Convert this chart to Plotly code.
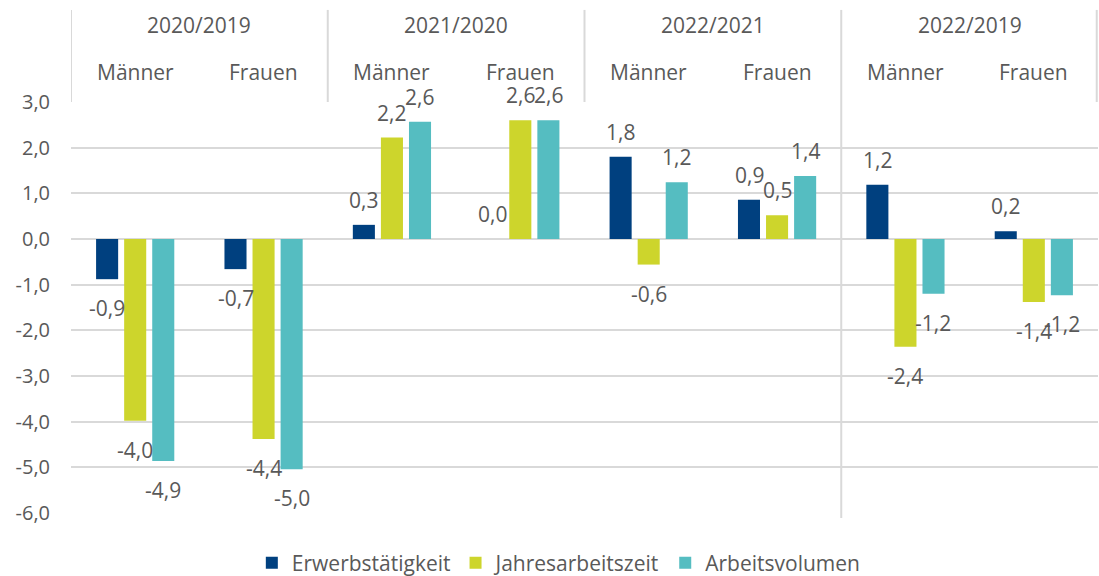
import plotly.graph_objects as go

periods = ["2020/2019", "2021/2020", "2022/2021", "2022/2019"]
genders = ["Männer", "Frauen"]
x_keys = [f"{p} {g}" for p in periods for g in genders]
x_gender = [g for _ in periods for g in genders]

erwerb = [-0.88, -0.66, 0.31, 0.0, 1.80, 0.86, 1.19, 0.17]
jahres = [-3.98, -4.38, 2.22, 2.60, -0.56, 0.52, -2.36, -1.38]
arbeit = [-4.86, -5.04, 2.57, 2.60, 1.24, 1.38, -1.20, -1.23]

series = [
    ("Erwerbstätigkeit", erwerb, "#00407F"),
    ("Jahresarbeitszeit", jahres, "#CDD52C"),
    ("Arbeitsvolumen", arbeit, "#55BDC1"),
]

y_ticks = [3, 2, 1, 0, -1, -2, -3, -4, -5, -6]


def de(v):
    return f"{v:.1f}".replace(".", ",")


FONT = "Open Sans"
GREY = "#595959"
LINE = "#D9D9D9"

fig = go.Figure()
for name, vals, col in series:
    fig.add_trace(go.Bar(
        name=name,
        x=x_keys,
        y=vals,
        marker=dict(color=col, line=dict(width=0)),
        hoverinfo="skip",
    ))

# data labels (Excel-style "outside end" offset)
annotations = []
for i, (name, vals, col) in enumerate(series):
    for k, v in zip(x_keys, vals):
        annotations.append(dict(
            x=k, y=v, xref="x", yref="y", text=de(v), showarrow=False,
            xshift=(i - 1) * 28, yshift=25 if v >= 0 else -29,
            yanchor="middle", xanchor="center",
            font=dict(family=FONT, size=21, color=GREY),
        ))

# header: period labels and gender labels
for j, p in enumerate(periods):
    annotations.append(dict(
        x=2 * j + 0.5, y=1.187, xref="x", yref="paper", text=p, showarrow=False,
        xanchor="center", yanchor="middle",
        font=dict(family=FONT, size=21, color=GREY),
    ))
for k, g in zip(x_keys, x_gender):
    annotations.append(dict(
        x=k, y=1.073, xref="x", yref="paper", text=g, showarrow=False,
        xanchor="center", yanchor="middle",
        font=dict(family=FONT, size=21, color=GREY),
    ))

shapes = []
for j in range(len(periods) + 1):
    xpos = 2 * j - 0.5 if j < len(periods) else 2 * j - 0.51
    shapes.append(dict(type="line", xref="x", yref="paper",
                       x0=xpos, x1=xpos, y0=1.0, y1=1.224,
                       line=dict(color=LINE, width=2)))
# vertical separator before 2022/2019 through the plot
shapes.append(dict(type="line", xref="x", yref="paper",
                   x0=5.5, x1=5.5, y0=-0.012, y1=1.0,
                   line=dict(color=LINE, width=2)))

fig.update_layout(
    width=1099, height=576,
    margin=dict(l=71, r=1, t=102, b=63, autoexpand=False),
    paper_bgcolor="white", plot_bgcolor="white",
    barmode="group",
    bargap=0.344, bargroupgap=0.214,
    font=dict(family=FONT, size=21, color=GREY),
    showlegend=True,
    legend=dict(orientation="h", x=0.475, xanchor="center", y=-0.122, yanchor="middle",
                font=dict(family=FONT, size=21, color=GREY), traceorder="normal",
                itemwidth=30),
    annotations=annotations,
    shapes=shapes,
    xaxis=dict(showgrid=False, zeroline=False, ticks="", showticklabels=False,
               showline=False, automargin=False, range=[-0.5, 7.5]),
    yaxis=dict(range=[-6, 3], tickvals=y_ticks, ticktext=[de(v) for v in y_ticks],
               showgrid=True, gridcolor=LINE, gridwidth=2,
               zeroline=True, zerolinecolor=LINE, zerolinewidth=2,
               tickfont=dict(family=FONT, size=20, color=GREY), ticks="",
               ticklabelstandoff=20, automargin=False, showline=False),
)

fig.write_html("out.html",
               config={"displayModeBar": False},
               post_script="document.body.style.margin='0';document.body.style.overflow='hidden';")
